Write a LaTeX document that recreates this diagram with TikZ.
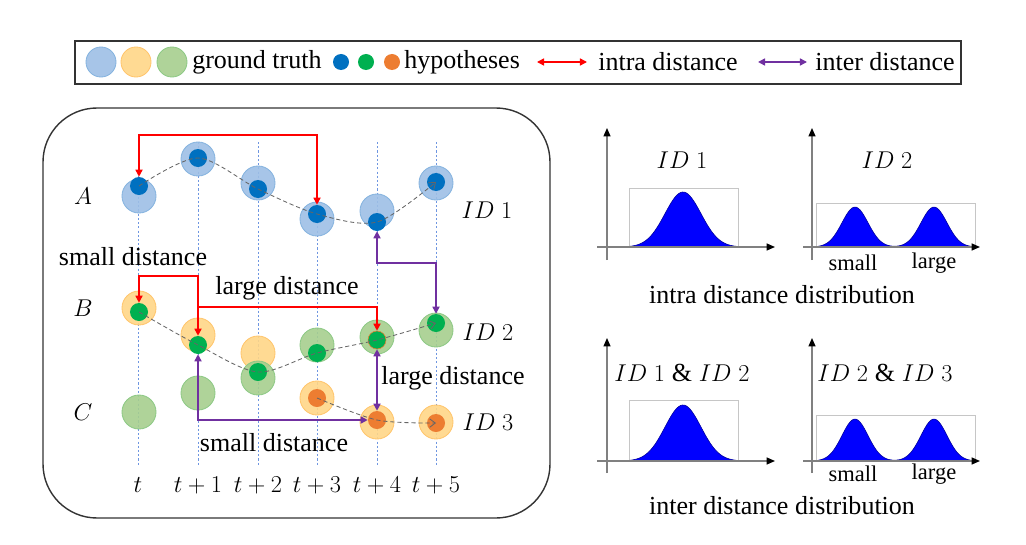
\documentclass[tikz,border=0pt]{standalone}
\usepackage{fontspec}
\setmainfont{Liberation Serif}
\usetikzlibrary{arrows.meta,positioning}

\definecolor{gtblue}{RGB}{157,191,229}
\definecolor{gtyellow}{RGB}{255,214,135}
\definecolor{gtgreen}{RGB}{166,206,142}
\definecolor{hypblue}{RGB}{0,112,192}
\definecolor{hypgreen}{RGB}{0,176,80}
\definecolor{hyporange}{RGB}{237,125,49}
\definecolor{intrared}{RGB}{255,0,0}
\definecolor{interpurple}{RGB}{112,48,160}
\definecolor{gridblue}{RGB}{110,150,225}

\begin{document}
\begin{tikzpicture}[x=0.025cm,y=-0.025cm,
    every node/.style={font=\fontsize{18.5}{22}\selectfont},
    gt/.style={circle,minimum size=0.85cm,inner sep=0pt,line width=0.6pt,fill opacity=0.9},
    gtA/.style={gt,fill=gtblue,draw=gtblue!85!hypblue},
    gtY/.style={gt,fill=gtyellow,draw=gtyellow!80!orange},
    gtG/.style={gt,fill=gtgreen,draw=gtgreen!85!hypgreen},
    hyp/.style={circle,minimum size=0.45cm,inner sep=0pt},
    track/.style={densely dashed,gray!80!black,line width=0.6pt,-{Straight Barb[length=4pt,width=6pt]}},
    intra/.style={intrared,line width=1.1pt,{Triangle[length=5pt,width=5pt]}-{Triangle[length=5pt,width=5pt]}},
    inter/.style={interpurple,line width=1.1pt,{Triangle[length=5pt,width=5pt]}-{Triangle[length=5pt,width=5pt]}},
    timeline/.style={gridblue,line width=0.5pt,dash pattern=on 1.5pt off 1.5pt},
    axis/.style={gray,line width=0.9pt,-{Triangle[length=6pt,width=5pt,black]}},
    dbox/.style={gray!45,line width=0.5pt},
    dist/.style={fill=blue,draw=blue!60!black,line width=0.4pt},
    small/.style={font=\fontsize{16}{19}\selectfont}]
  \useasboundingbox (0,0) rectangle (1026,545);

  % legend
  \draw[black!80,line width=0.8pt] (75,41) rectangle (961,84);
  \node[gtA,minimum size=0.75cm] (lgA) at (101,62) {};
  \node[gtY,minimum size=0.75cm] (lgY) at (136,62) {};
  \node[gtG,minimum size=0.75cm] (lgG) at (172,62) {};
  \node[anchor=west,inner sep=0pt] (lgGT) at (192,62) {ground truth};
  \node[hyp,fill=hypblue,minimum size=0.4cm] (lgHb) at (341,62) {};
  \node[hyp,fill=hypgreen,minimum size=0.4cm] (lgHg) at (366,62) {};
  \node[hyp,fill=hyporange,minimum size=0.4cm] (lgHo) at (392,62) {};
  \node[anchor=west,inner sep=0pt] (lgHyp) at (404,62) {hypotheses};
  \coordinate (lgR1) at (537,62);
  \coordinate (lgR2) at (587,62);
  \draw[intra] (lgR1) -- (lgR2);
  \node[anchor=west,inner sep=0pt] (lgIntra) at (598,62) {intra distance};
  \coordinate (lgP1) at (758,62);
  \coordinate (lgP2) at (807,62);
  \draw[inter] (lgP1) -- (lgP2);
  \node[anchor=west,inner sep=0pt] (lgInter) at (815,62) {inter distance};

  % tracking panel
  \draw[black!80,line width=1pt,rounded corners=1.35cm] (43,108) rectangle (550,518);
  \foreach \x in {138,198,258,317,377,436}
    \draw[timeline] (\x,142) -- (\x,465);

  % ground truth
  \node[gtA] (gA0) at (139,196) {};
  \node[gtA] (gA1) at (198,159) {};
  \node[gtA] (gA2) at (258,183) {};
  \node[gtA] (gA3) at (317,219) {};
  \node[gtA] (gA4) at (377,211) {};
  \node[gtA] (gA5) at (436,183) {};
  \node[gtY] (gB0) at (139,308) {};
  \node[gtY] (gB1) at (198,335) {};
  \node[gtY] (gB2) at (258,353) {};
  \node[gtG] (gB3) at (317,345) {};
  \node[gtG] (gB4) at (377,337) {};
  \node[gtG] (gB5) at (436,330) {};
  \node[gtG] (gC0) at (139,412) {};
  \node[gtG] (gC1) at (198,393) {};
  \node[gtG] (gC2) at (258,378) {};
  \node[gtY] (gC3) at (317,398) {};
  \node[gtY] (gC4) at (377,422) {};
  \node[gtY] (gC5) at (436,422) {};

  % hypotheses
  \node[hyp,fill=hypblue] (hA0) at (139,186) {};
  \node[hyp,fill=hypblue] (hA1) at (198,158) {};
  \node[hyp,fill=hypblue] (hA2) at (258,189) {};
  \node[hyp,fill=hypblue] (hA3) at (317,214) {};
  \node[hyp,fill=hypblue] (hA4) at (377,222) {};
  \node[hyp,fill=hypblue] (hA5) at (436,182) {};
  \node[hyp,fill=hypgreen] (hB0) at (139,312) {};
  \node[hyp,fill=hypgreen] (hB1) at (198,345) {};
  \node[hyp,fill=hypgreen] (hB2) at (258,372) {};
  \node[hyp,fill=hypgreen] (hB3) at (317,353) {};
  \node[hyp,fill=hypgreen,draw=hyporange,line width=0.4pt] (hB4) at (377,340) {};
  \node[hyp,fill=hypgreen] (hB5) at (436,323) {};
  \node[hyp,fill=hyporange] (hC3) at (317,398) {};
  \node[hyp,fill=hyporange] (hC4) at (377,420) {};
  \node[hyp,fill=hyporange] (hC5) at (436,423) {};

  % tracks
  \draw[track] plot[smooth] coordinates {(hA0.center) (hA1.center) (hA2.center) (hA3.center) (hA4.center) (hA5.center)};
  \draw[track] plot[smooth] coordinates {(hB0.center) (hB1.center) (hB2.center) (hB3.center) (hB4.center) (hB5.center)};
  \draw[track] plot[smooth] coordinates {(hC3.center) (hC4.center) (hC5.center)};

  % distances
  \coordinate (rtopA) at (0,135);
  \coordinate (rtopB) at (0,276);
  \coordinate (rmidB) at (0,307);
  \coordinate (pmid) at (0,263);
  \coordinate (pbot) at (0,420);
  \draw[intra] (hA0.north) -- (hA0.north |- rtopA) -- (hA3.north |- rtopA) -- (hA3.north);
  \draw[intra] (hB0.north) -- (hB0.north |- rtopB) -- (hB1.north |- rtopB) -- (hB1.north);
  \draw[intra,-{Triangle[length=5pt,width=5pt]}] (hB1.north |- rmidB) -- (hB4.north |- rmidB) -- (hB4.north);
  \draw[inter] (hA4.south) -- (hA4.south |- pmid) -- (hB5.north |- pmid) -- (hB5.north);
  \draw[inter] (hB4.south) -- (hC4.north);
  \draw[inter] (hB1.south) -- (hB1.south |- pbot) -- (hC4.west);

  % labels
  \node (labA) at (83,196) {$A$};
  \node (labB) at (83,308) {$B$};
  \node (labC) at (83,412) {$C$};
  \node (smallA) at (133,257) {small distance};
  \node (largeB) at (287,288) {large distance};
  \node (largeBC) at (453,378) {large distance};
  \node (smallBC) at (274,443) {small distance};
  \node (id1) at (487,210) {$ID\;1$};
  \node (id2) at (488,332) {$ID\;2$};
  \node (id3) at (488,422) {$ID\;3$};
  \node (t0) at (138,485) {$t$};
  \node (t1) at (198,485) {$t+1$};
  \node (t2) at (258,485) {$t+2$};
  \node (t3) at (317,485) {$t+3$};
  \node (t4) at (377,485) {$t+4$};
  \node (t5) at (436,485) {$t+5$};

  % intra distance distribution
  \draw[dbox] (629,188) rectangle (738,247);
  \fill[dist] plot[domain=629:738,samples=60] (\x,{247-55*exp(-((\x-683)/18)^2/2)}) -- cycle;
  \draw[axis] (607,260) -- (607,128);
  \draw[axis] (597,247) -- (775,247);
  \node (dist1) at (682,160) {$ID\;1$};
  \draw[dbox] (816,203) rectangle (975,247);
  \fill[dist] plot[domain=816:975,samples=80] (\x,{247-40*(exp(-((\x-855)/13)^2/2)+exp(-((\x-934)/13)^2/2))}) -- cycle;
  \draw[axis] (812,260) -- (812,128);
  \draw[axis] (803,247) -- (980,247);
  \node (dist2) at (887,160) {$ID\;2$};
  \node[small] (sm2) at (853,263) {small};
  \node[small] (lg2) at (934,263) {large};
  \node (intraT) at (782,295) {intra distance distribution};

  % inter distance distribution
  \draw[dbox] (629,400) rectangle (738,461);
  \fill[dist] plot[domain=629:738,samples=60] (\x,{461-56*exp(-((\x-683)/18)^2/2)}) -- cycle;
  \draw[axis] (607,473) -- (607,338);
  \draw[axis] (597,461) -- (775,461);
  \node (dist12) at (682,373) {$ID\;1\;\&\;ID\;2$};
  \draw[dbox] (816,415) rectangle (975,461);
  \fill[dist] plot[domain=816:975,samples=80] (\x,{461-42*(exp(-((\x-855)/13)^2/2)+exp(-((\x-934)/13)^2/2))}) -- cycle;
  \draw[axis] (812,473) -- (812,338);
  \draw[axis] (803,461) -- (980,461);
  \node (dist23) at (885,373) {$ID\;2\;\&\;ID\;3$};
  \node[small] (sm4) at (853,474) {small};
  \node[small] (lg4) at (934,474) {large};
  \node (interT) at (782,506) {inter distance distribution};
\end{tikzpicture}
\end{document}
